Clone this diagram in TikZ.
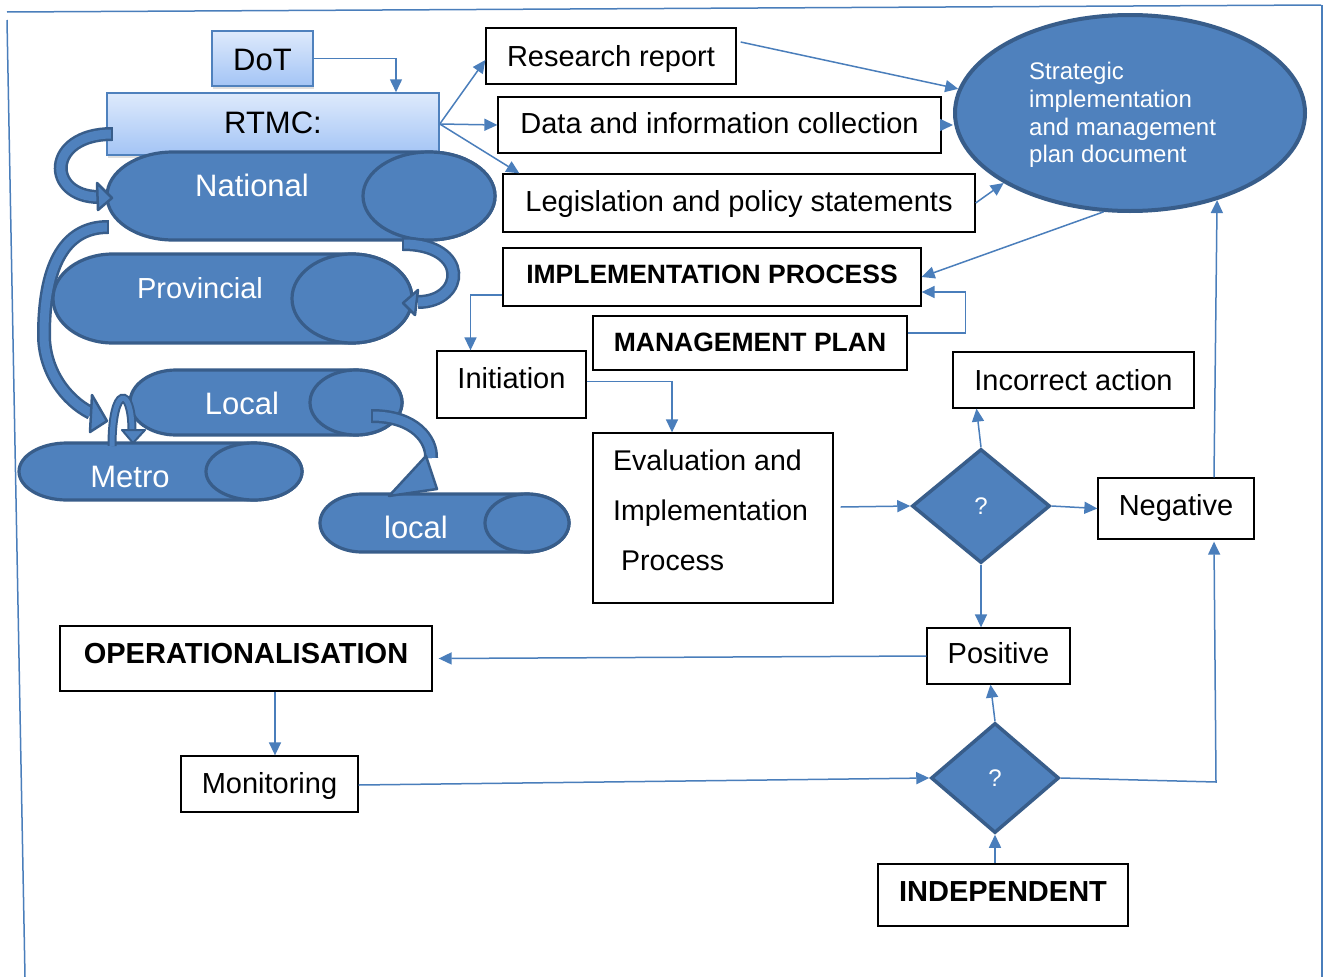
\documentclass[tikz,border=0pt]{standalone}
\usepackage{fontspec}
\setmainfont{Liberation Sans}
\usetikzlibrary{arrows.meta,shapes.geometric,calc,shadows}

\definecolor{lnk}{RGB}{74,126,187}
\definecolor{fillb}{RGB}{79,129,189}
\definecolor{edgeb}{RGB}{56,93,138}
\definecolor{gtop}{RGB}{222,234,252}
\definecolor{gbot}{RGB}{163,196,245}

% horizontal drum: left centre x, right centre x, centre y, x radius, y radius
\newcommand{\drum}[5]{%
  \filldraw[drumbody] ([yshift=#5pt]#1,#3) -- ([yshift=#5pt]#2,#3)
    arc[start angle=90,end angle=-90,x radius=#4pt,y radius=#5pt]
    -- ([yshift=-#5pt]#1,#3)
    arc[start angle=270,end angle=90,x radius=#4pt,y radius=#5pt] -- cycle;
  \draw[drumbody] (#2,#3) ellipse[x radius=#4pt,y radius=#5pt];}
\newcommand{\up}[2]{\raisebox{#1pt}{#2}}

\begin{document}
\begin{tikzpicture}[x=1pt,y=-1pt,
  frame/.style={draw=lnk,line width=1.5pt},
  conn/.style={draw=lnk,line width=1.5pt,-{Triangle[length=13pt,width=12pt]}},
  box/.style={draw=black,line width=1.3pt,fill=white,inner sep=0pt,
    font=\fontsize{29}{35}\selectfont,text height=20.8pt,text depth=0pt},
  boldbox/.style={box,font=\fontsize{26.5}{32}\selectfont\bfseries,text height=19pt},
  bigbold/.style={box,font=\fontsize{29}{35}\selectfont\bfseries},
  gbox/.style={draw=fillb,line width=1.5pt,top color=gtop,bottom color=gbot,
    inner sep=0pt,font=\fontsize{31}{37}\selectfont,text height=22.2pt,text depth=0pt,
    drop shadow={shadow xshift=1pt,shadow yshift=-3pt,opacity=0.25}},
  drumbody/.style={fill=fillb,draw=edgeb,line width=3.2pt},
  drumtxt/.style={text=white,font=\fontsize{31}{37}\selectfont,inner sep=0pt},
  band/.style={draw=edgeb,line width=2.5pt,double=fillb,double distance=9pt,line cap=butt},
  thinband/.style={draw=edgeb,line width=2pt,double=fillb,double distance=5pt,line cap=butt},
  bhead/.style={fill=fillb,draw=edgeb,line width=2.5pt,line join=round},
  dia/.style={diamond,fill=fillb,draw=edgeb,line width=3.5pt,inner sep=0pt,
    text=white,font=\fontsize{24}{28}\selectfont}]

\useasboundingbox (0,0) rectangle (1325,977);
\fill[white] (0,0) rectangle (1325,977);

% outer frame
\draw[frame] (7,12) -- (1321,5);
\draw[frame] (7,20) -- (25,977);
\draw[frame] (1322,5) -- (1322,977);

% top authorities
\node[gbox,minimum width=101pt,minimum height=55pt] (dot) at (262.5,58.5) {\up{-1}{DoT}};
\node[gbox,minimum width=332pt,minimum height=62pt] (rtmc) at (273,124) {\up{2}{RTMC:}};

% government levels as drums
\drum{173}{429}{196}{66}{44}
\node[drumtxt] (national) at (252,185) {National};
\drum{113}{352}{298.5}{60}{44.5}
\node[drumtxt,font=\fontsize{29}{35}\selectfont] (provincial) at (200,288) {Provincial};
\drum{176}{356}{402.5}{46}{32.5}
\node[drumtxt] (localA) at (242,403) {Local};
\drum{67}{254}{471.5}{48}{28.5}
\node[drumtxt] (metro) at (130,477) {Metro};
\drum{362}{527}{523}{42}{29}
\node[drumtxt] (localB) at (416,527) {local};

% curved block arrows between levels
\draw[band] (112,134) .. controls (46,134) and (46,197) .. (99,197);
\draw[edgeb,line width=2.5pt] (112,127) -- (112,141);
\filldraw[bhead] (97,183) -- (112,198) -- (98,210) -- cycle;

\draw[band] (108,227) .. controls (62,227) and (44,270) .. (44,335)
  .. controls (44,370) and (65,400) .. (91,413);
\draw[edgeb,line width=2.5pt] (108,220) -- (108,234);
\filldraw[bhead] (92,395) -- (107,421) -- (90,432) -- cycle;

\draw[band] (403,244) .. controls (470,244) and (465,302) .. (418,302);
\draw[edgeb,line width=2.5pt] (403,237) -- (403,251);
\filldraw[bhead] (418,290) -- (403,303) -- (415,315) -- cycle;

\draw[thinband] (112,446) .. controls (112,385) and (132,385) .. (132,431);
\filldraw[bhead,line width=2pt] (122,430) -- (145,430) -- (133,443) -- cycle;

\draw[band] (372,416) .. controls (415,416) and (432,440) .. (431,458);
\draw[edgeb,line width=2.5pt] (372,409) -- (372,423);
\filldraw[bhead] (426,456) -- (437,489) -- (389,496) -- cycle;

% boxes
\node[box,minimum width=250pt,minimum height=56pt] (rr) at (611,56) {Research report};
\node[box,minimum width=443pt,minimum height=56pt] (data) at (719.5,125) {\up{2}{Data and information collection}};
\node[box,minimum width=472pt,minimum height=58pt] (leg) at (739,203) {\up{1.5}{Legislation and policy statements}};
\node[boldbox,minimum width=418pt,minimum height=58pt] (ip) at (712,277) {\up{3}{IMPLEMENTATION PROCESS}};
\node[boldbox,minimum width=314pt,minimum height=54pt] (mp) at (750,343) {\up{1.5}{MANAGEMENT PLAN}};
\node[box,minimum width=149pt,minimum height=67pt] (init) at (511.5,384.5) {\up{6.5}{Initiation}};
\node[box,minimum width=240pt,minimum height=170pt] (eval) at (713,518) {};
\node[anchor=west,align=left,inner sep=0pt,font=\fontsize{28.5}{50}\selectfont] (evaltxt)
  at (613,510.5) {Evaluation and\\Implementation\\\hspace*{8pt}Process};
\node[box,minimum width=241pt,minimum height=56pt] (inc) at (1073.5,380) {Incorrect action};
\node[box,minimum width=156pt,minimum height=61pt] (neg) at (1176,508.5) {\up{3.5}{Negative}};
\node[box,minimum width=143pt,minimum height=56pt] (pos) at (998.5,656) {\up{2.5}{Positive}};
\node[bigbold,minimum width=372pt,minimum height=65pt] (op) at (246,658.5) {\up{5.5}{OPERATIONALISATION}};
\node[box,minimum width=177pt,minimum height=56pt] (mon) at (269.5,784) {\up{1}{Monitoring}};
\node[bigbold,minimum width=250pt,minimum height=62pt] (indep) at (1003,895) {\up{3.5}{INDEPENDENT}};

% strategic plan document
\node[ellipse,fill=fillb,draw=edgeb,line width=4pt,minimum width=350pt,minimum height=196pt,
  inner sep=0pt] (strat) at (1130,113) {};
\node[anchor=west,align=left,inner sep=0pt,text=white,font=\fontsize{24}{27.7}\selectfont]
  (strattxt) at (1029,115) {Strategic\\implementation\\and management\\plan document};

% decisions
\node[dia,minimum width=138pt,minimum height=114pt] (d1) at (981,506) {?};
\node[dia,minimum width=128pt,minimum height=110pt] (d2) at (995,778) {?};

% connectors
\draw[conn] (dot.east) -| ($(rtmc.north)+(123,0)$);
\draw[conn] (rtmc.east) -- ($(rr.west)+(0,4)$);
\draw[conn] (rtmc.east) -- (data.west);
\draw[conn] (rtmc.east) -- ($(leg.north west)+(17,0)$);
\draw[conn] ($(rr.east)+(4,-14)$) -- (strat.172);
\draw[conn] (data.east) -- (data.east -| strat.west);
\draw[conn] (leg.east) -- (strat.209);
\draw[conn] (strat.255) -- (ip.east);
\draw[conn] ($(mp.east)+(0,-10)$) -- ++(58,0) |- ($(ip.east)+(0,15)$);
\draw[conn] ($(ip.west)+(0,18)$) -| ($(init.north)+(-41,0)$);
\draw[conn] ($(init.east)+(0,-3)$) -| ($(eval.north)+(-41,0)$);
\draw[conn] ($(eval.east)+(7,-11)$) -- (d1.west);
\draw[conn] (d1.east) -- (neg.west);
\draw[conn] (d1.north) -- ($(inc.south)+(-97,0)$);
\draw[conn] (d1.south) -- (pos.north -| d1.south);
\draw[conn] ($(neg.north)+(38,0)$) -- (strat.315);
\draw[conn] (pos.west) -- ($(op.east)+(6,0)$);
\draw[conn] ($(op.south)+(29,0)$) -- ($(mon.north)+(5.5,0)$);
\draw[conn] ($(mon.east)+(0,1)$) -- (d2.west);
\draw[conn] (d2.north) -- ($(pos.south)+(-8,0)$);
\draw[conn] ($(indep.north)+(-8,0)$) -- (d2.south);
\coordinate (turn) at (1216,782);
\draw[conn] (d2.east) -- (turn) -- ($(neg.south)+(38,2)$);

\end{tikzpicture}
\end{document}
